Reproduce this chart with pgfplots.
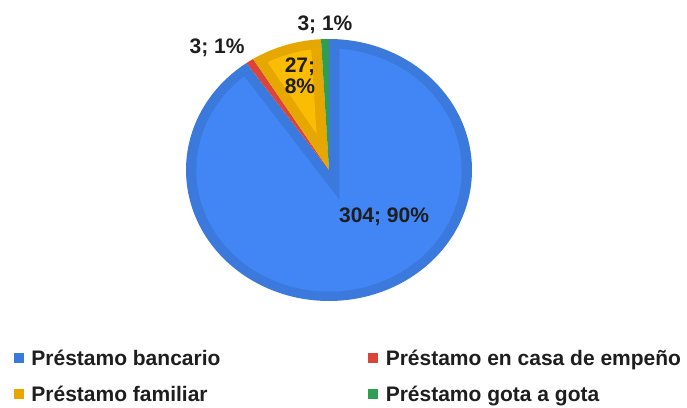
\documentclass[border=0pt]{standalone}
\usepackage{pgfplots}
\pgfplotsset{compat=1.18}
\usepackage{pgfplotstable}
\usepackage{fontspec}
\setmainfont{Liberation Sans}
\definecolor{bluelight}{HTML}{4285F4}
\definecolor{bluedark}{HTML}{3B7ADC}
\definecolor{redc}{HTML}{DB4437}
\definecolor{yellowlight}{HTML}{FBBC04}
\definecolor{yellowdark}{HTML}{E6A700}
\definecolor{greenc}{HTML}{2F9E50}
\definecolor{txt}{HTML}{1E1E1E}

\pgfplotstableread{
name value
bancario 304
empeno 3
familiar 27
gota 3
}\piedata
\pgfplotstablegetelem{0}{value}\of\piedata \edef\va{\pgfplotsretval}
\pgfplotstablegetelem{1}{value}\of\piedata \edef\vb{\pgfplotsretval}
\pgfplotstablegetelem{2}{value}\of\piedata \edef\vc{\pgfplotsretval}
\pgfplotstablegetelem{3}{value}\of\piedata \edef\vd{\pgfplotsretval}
\pgfmathsetmacro\tot{\va+\vb+\vc+\vd}
\pgfmathsetmacro\aA{90}
\pgfmathsetmacro\aB{\aA-360*(\va/\tot)}
\pgfmathsetmacro\aC{\aB-360*(\vb/\tot)}
\pgfmathsetmacro\aD{\aC-360*(\vc/\tot)}
\pgfmathsetmacro\aE{\aD-360*(\vd/\tot)}
\def\dn{0.072}
\pgfmathsetmacro\Rp{1-\dn}
\pgfmathsetmacro\del{asin(\dn/\Rp)}
% blue inset
\pgfmathsetmacro\bh{(\aA-\aB)/2}
\pgfmathsetmacro\bb{(\aA+\aB)/2}
\pgfmathsetmacro\bs{\dn/sin(\bh)}
\pgfmathsetmacro\bPx{\bs*cos(\bb)}
\pgfmathsetmacro\bPy{\bs*sin(\bb)}
\pgfmathsetmacro\bLo{\aB+\del}
\pgfmathsetmacro\bHi{\aA-\del}
% yellow inset
\pgfmathsetmacro\yh{(\aC-\aD)/2}
\pgfmathsetmacro\yb{(\aC+\aD)/2}
\pgfmathsetmacro\ys{\dn/sin(\yh)}
\pgfmathsetmacro\yPx{\ys*cos(\yb)}
\pgfmathsetmacro\yPy{\ys*sin(\yb)}
\pgfmathsetmacro\yLo{\aD+\del}
\pgfmathsetmacro\yHi{\aC-\del}

\newcommand{\lstrut}{\rule[-5pt]{0pt}{22pt}}

\begin{document}
\begin{tikzpicture}
\path[use as bounding box] (0,0) rectangle (687pt,407pt);
\begin{axis}[
  at={(329pt,237pt)}, anchor=center,
  scale only axis, width=286pt, height=262pt,
  xmin=-1, xmax=1, ymin=-1, ymax=1,
  hide axis, clip=false,
  legend columns=2, legend cell align=left,
  legend style={at={(-0.6014,-0.1794)}, anchor=north west, draw=none, fill=none,
    inner sep=0pt, outer sep=0pt, row sep=18pt,
    nodes={inner sep=0pt, outer sep=0pt},
    /tikz/every odd column/.append style={column sep=8pt},
    font=\fontsize{21}{25}\selectfont\bfseries, text=txt},
]
% full sectors
\addplot[forget plot, fill=bluedark, draw=none, domain=\aB:\aA, samples=200] ({cos(x)},{sin(x)}) -- (0,0) -- cycle;
\addplot[forget plot, fill=redc, draw=none, domain=\aC:\aB, samples=10] ({cos(x)},{sin(x)}) -- (0,0) -- cycle;
\addplot[forget plot, fill=yellowdark, draw=none, domain=\aD:\aC, samples=30] ({cos(x)},{sin(x)}) -- (0,0) -- cycle;
\addplot[forget plot, fill=greenc, draw=none, domain=\aE:\aD, samples=10] ({cos(x)},{sin(x)}) -- (0,0) -- cycle;
% inner lighter parts
\addplot[forget plot, fill=bluelight, draw=none, domain=\bLo:\bHi, samples=200] ({\Rp*cos(x)},{\Rp*sin(x)}) -- (\bPx,\bPy) -- cycle;
\addplot[forget plot, fill=yellowlight, draw=none, domain=\yLo:\yHi, samples=30] ({\Rp*cos(x)},{\Rp*sin(x)}) -- (\yPx,\yPy) -- cycle;

% data labels
\node[font=\fontsize{21}{25}\selectfont\bfseries, text=txt] at (axis cs:0.385,-0.359) {304; 90\%};
\node[font=\fontsize{21}{21}\selectfont\bfseries, text=txt, align=center] at (axis cs:-0.203,0.718) {27;\\8\%};
\node[font=\fontsize{21}{25}\selectfont\bfseries, text=txt] at (axis cs:-0.783,0.931) {3; 1\%};
\node[font=\fontsize{21}{25}\selectfont\bfseries, text=txt] at (axis cs:-0.028,1.107) {3; 1\%};

% legend
\addlegendimage{legend image code/.code={\fill[bluedark] (0pt,-4.5pt) rectangle (9pt,4.5pt);}}
\addlegendentry{\makebox[337pt][l]{\lstrut Préstamo bancario}}
\addlegendimage{legend image code/.code={\fill[redc] (0pt,-4.5pt) rectangle (9pt,4.5pt);}}
\addlegendentry{\lstrut Préstamo en casa de empeño}
\addlegendimage{legend image code/.code={\fill[yellowdark] (0pt,-4.5pt) rectangle (9pt,4.5pt);}}
\addlegendentry{\makebox[337pt][l]{\lstrut Préstamo familiar}}
\addlegendimage{legend image code/.code={\fill[greenc] (0pt,-4.5pt) rectangle (9pt,4.5pt);}}
\addlegendentry{\lstrut Préstamo gota a gota}
\end{axis}
\end{tikzpicture}
\end{document}
